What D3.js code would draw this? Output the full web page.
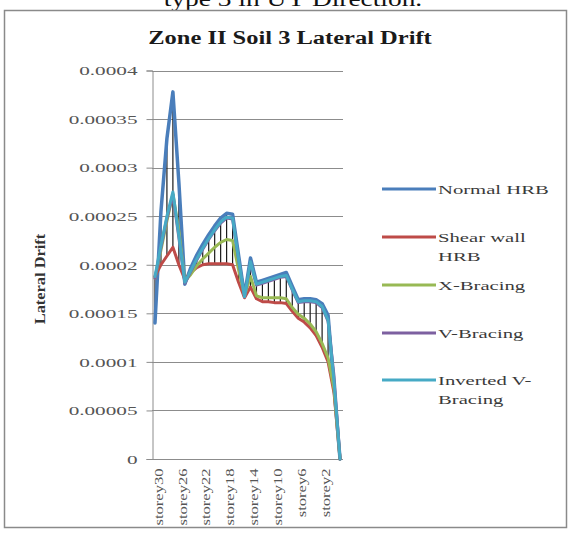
<!DOCTYPE html>
<html>
<head>
<meta charset="utf-8">
<script src="https://cdn.jsdelivr.net/npm/d3@7"></script>
<style>
  html, body { margin: 0; padding: 0; background: #fff; }
  svg { display: block; }
  text { font-family: "Liberation Serif", "Times New Roman", serif; }
</style>
</head>
<body>
<svg id="chart" width="572" height="534"></svg>
<script>
// Storeys from the top of the building down to the base
const categories = [
  "storey30","storey29","storey28","storey27","storey26","storey25","storey24","storey23",
  "storey22","storey21","storey20","storey19","storey18","storey17","storey16","storey15",
  "storey14","storey13","storey12","storey11","storey10","storey9","storey8","storey7",
  "storey6","storey5","storey4","storey3","storey2","storey1","plinth","base"
];

// Lateral drift per storey for each structural system
const normalHRB = [
  0.000140,0.000255,0.000330,0.000378,0.000285,0.000180,0.000197,0.000210,
  0.000221,0.000231,0.000240,0.000248,0.000253,0.000252,0.000210,0.000168,
  0.000207,0.000182,0.000184,0.000186,0.000188,0.000190,0.000192,0.000178,
  0.000164,0.000165,0.000165,0.000164,0.000160,0.000148,0.000074,0
];
const shearWallHRB = [
  0.000188,0.000200,0.000209,0.000218,0.000200,0.000185,0.000192,0.000197,
  0.000200,0.000201,0.000201,0.000201,0.000201,0.000200,0.000182,0.000166,
  0.000177,0.000165,0.000162,0.000162,0.000161,0.000161,0.000160,0.000152,
  0.000145,0.000141,0.000135,0.000127,0.000115,0.000100,0.000068,0
];
const xBracing = [
  0.000186,0.000215,0.000245,0.000273,0.000235,0.000183,0.000190,0.000199,
  0.000206,0.000212,0.000218,0.000223,0.000226,0.000225,0.000195,0.000168,
  0.000188,0.000168,0.000166,0.000166,0.000166,0.000166,0.000165,0.000156,
  0.000149,0.000145,0.000139,0.000131,0.000119,0.000104,0.000072,0
];
const vBracing = [
  0.000186,0.000218,0.000248,0.000272,0.000228,0.000181,0.000193,0.000205,
  0.000216,0.000226,0.000235,0.000243,0.000248,0.000247,0.000205,0.000167,
  0.000202,0.000179,0.000181,0.000183,0.000185,0.000187,0.000188,0.000174,
  0.000161,0.000162,0.000162,0.000161,0.000156,0.000142,0.000085,0
];
const invertedVBracing = [
  0.000188,0.000220,0.000250,0.000275,0.000230,0.000182,0.000194,0.000206,
  0.000217,0.000227,0.000236,0.000244,0.000249,0.000248,0.000206,0.000167,
  0.000203,0.000180,0.000182,0.000184,0.000186,0.000188,0.000189,0.000175,
  0.000162,0.000163,0.000163,0.000162,0.000157,0.000143,0.000080,0
];

const seriesNames = ["Normal HRB", "Shear wall HRB", "X-Bracing", "V-Bracing", "Inverted V-Bracing"];
const legendLines = [["Normal HRB"], ["Shear wall", "HRB"], ["X-Bracing"], ["V-Bracing"], ["Inverted V-", "Bracing"]];
const seriesColors = ["#4a7ebb", "#be4b48", "#98b954", "#7d60a0", "#46aac5"];
const yTicks = [0, 0.00005, 0.0001, 0.00015, 0.0002, 0.00025, 0.0003, 0.00035, 0.0004];
const yTickLabels = ["0", "0.00005", "0.0001", "0.00015", "0.0002", "0.00025", "0.0003", "0.00035", "0.0004"];
const xLabelEvery = 4;

const seriesValues = [normalHRB, shearWallHRB, xBracing, vBracing, invertedVBracing];
const series = seriesNames.map((name, i) => ({
  name, color: seriesColors[i], values: seriesValues[i]
}));

const svg = d3.select("#chart");

// Widen text horizontally by a factor, keeping its anchor
function widen(sel, k) {
  sel.each(function () {
    const w = this.getComputedTextLength();
    d3.select(this).attr("textLength", w * k).attr("lengthAdjust", "spacingAndGlyphs");
  });
}

// Caption line above the chart frame (its upper part runs off the page)
svg.append("text")
  .attr("x", 293).attr("y", 6)
  .attr("text-anchor", "middle")
  .attr("font-size", 20)
  .attr("fill", "#111")
  .text("type 3 in UY Direction.")
  .call(widen, 1.37);

// Chart frame
svg.append("rect")
  .attr("x", 4.5).attr("y", 10.5)
  .attr("width", 562).attr("height", 517)
  .attr("fill", "#fff")
  .attr("stroke", "#8a8a8a")
  .attr("stroke-width", 1.5);

// Title
svg.append("text")
  .attr("x", 290).attr("y", 44)
  .attr("text-anchor", "middle")
  .attr("font-size", 18)
  .attr("font-weight", "bold")
  .attr("fill", "#1a1a1a")
  .text("Zone II Soil 3 Lateral Drift")
  .call(widen, 1.36);

// Plot area
const plot = { left: 152, right: 343, top: 70.5, bottom: 459 };

const x = d3.scalePoint()
  .domain(categories)
  .range([plot.left, plot.right])
  .padding(0.5);

const y = d3.scaleLinear()
  .domain([0, 0.0004])
  .range([plot.bottom, plot.top]);

// Horizontal gridlines
svg.append("g")
  .selectAll("line")
  .data(yTicks.filter(t => t > 0))
  .join("line")
  .attr("x1", plot.left).attr("x2", plot.right)
  .attr("y1", d => Math.round(y(d)) + 0.5).attr("y2", d => Math.round(y(d)) + 0.5)
  .attr("stroke", "#8c8c8c")
  .attr("stroke-width", 1);

// Value axis
const yAxis = svg.append("g")
  .attr("transform", `translate(${plot.left + 0.5},0)`)
  .call(d3.axisLeft(y).tickValues(yTicks).tickFormat((d, i) => yTickLabels[i]).tickSizeOuter(0).tickSize(6).tickPadding(9));
yAxis.select(".domain").attr("stroke", "#8c8c8c");
yAxis.selectAll(".tick line").attr("stroke", "#8c8c8c");
yAxis.selectAll(".tick text")
  .attr("font-family", "Liberation Serif, Times New Roman, serif")
  .attr("font-size", 13.5)
  .attr("fill", "#555")
  .call(widen, 1.57);

// Category axis
const xAxis = svg.append("g")
  .attr("transform", `translate(0,${plot.bottom + 0.5})`)
  .call(d3.axisBottom(x)
    .tickValues(categories.filter((c, i) => i % xLabelEvery === 0))
    .tickSize(0).tickSizeOuter(0));
xAxis.select(".domain").attr("stroke", "#8c8c8c").attr("d", `M${plot.left},0H${plot.right}`);
xAxis.selectAll(".tick text")
  .attr("font-family", "Liberation Serif, Times New Roman, serif")
  .attr("font-size", 12)
  .attr("fill", "#555")
  .attr("text-anchor", "end")
  .attr("transform", "rotate(-90)")
  .attr("x", -9).attr("y", 0).attr("dy", "0.6em")
  .call(widen, 1.38);

// Axis title
svg.append("text")
  .attr("transform", "translate(45,279) rotate(-90)")
  .attr("text-anchor", "middle")
  .attr("font-size", 14)
  .attr("font-weight", "bold")
  .attr("fill", "#333")
  .text("Lateral Drift")
  .call(widen, 1.17);

// High-low lines spanning all series at each storey
const hiLo = categories.map((c, i) => {
  const vals = series.map(s => s.values[i]);
  return { c, lo: d3.min(vals), hi: d3.max(vals) };
});
svg.append("g")
  .selectAll("line")
  .data(hiLo)
  .join("line")
  .attr("x1", d => x(d.c)).attr("x2", d => x(d.c))
  .attr("y1", d => y(d.lo)).attr("y2", d => y(d.hi))
  .attr("stroke", "#1a1a1a")
  .attr("stroke-width", 1.2);

// Series lines
const line = d3.line()
  .x((d, i) => x(categories[i]))
  .y(d => y(d));

svg.append("g")
  .selectAll("path")
  .data(series)
  .join("path")
  .attr("d", d => line(d.values))
  .attr("fill", "none")
  .attr("stroke", d => d.color)
  .attr("stroke-width", (d, i) => i === 0 ? 3.5 : 3)
  .attr("stroke-linejoin", "round")
  .attr("stroke-linecap", "round");

// Legend
const legendY = [189, 237, 285, 333, 380];
const legend = svg.append("g");
series.forEach((s, i) => {
  const g = legend.append("g").attr("transform", `translate(0,${legendY[i]})`);
  g.append("line")
    .attr("x1", 382).attr("x2", 436)
    .attr("y1", 0).attr("y2", 0)
    .attr("stroke", s.color)
    .attr("stroke-width", 3);
  legendLines[i].forEach((t, j) => {
    g.append("text")
      .attr("x", 438).attr("y", j * 19)
      .attr("dy", "0.34em")
      .attr("font-size", 13.5)
      .attr("fill", "#3a3a3a")
      .text(t)
      .call(widen, 1.53);
  });
});
</script>
</body>
</html>
